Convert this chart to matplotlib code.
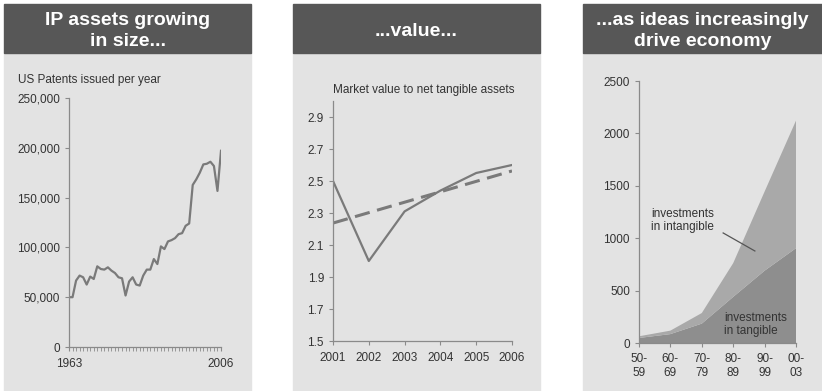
import matplotlib.pyplot as plt
from matplotlib.patches import Rectangle
import numpy as np

plt.rcParams['font.family'] = ['Liberation Sans', 'DejaVu Sans']

# panel 1: US patents issued per year
years = list(range(1963, 2007))
patents = [50000, 50000, 66700, 71700, 70000, 62700, 70700, 68300, 81000, 78300,
           77700, 80000, 76700, 74300, 70000, 69000, 51700, 65700, 70000, 62700,
           61700, 71700, 77700, 77700, 88300, 83300, 101000, 98300, 106000, 107300,
           109300, 113300, 114300, 121700, 124000, 162700, 168300, 175000, 183300, 184000,
           186000, 181700, 156700, 197000]

# panel 2: market value to net tangible assets
mv_years = [2001, 2002, 2003, 2004, 2005, 2006]
mv_ratio = [2.50, 2.00, 2.31, 2.44, 2.55, 2.60]

# panel 3: investments by decade
decades = ["50-\n59", "60-\n69", "70-\n79", "80-\n89", "90-\n99", "00-\n03"]
tangible = [48, 85, 185, 440, 690, 905]
intangible = [16, 33, 101, 322, 755, 1217]

headers = ["IP assets growing\nin size...", "...value...", "...as ideas increasingly\ndrive economy"]

W, H = 822, 391
fig = plt.figure(figsize=(W / 100, H / 100), dpi=100)

BG = '#e3e3e3'
HEAD = '#575757'
LINE = '#7a7a7a'
TXT = '#333333'
AXC = '#8a8a8a'

panels = [(4, 251), (293, 540), (583, 822)]
for (x0, x1), title in zip(panels, headers):
    fig.patches.append(Rectangle((x0 / W, 0.0), (x1 - x0) / W, (H - 53) / H,
                                 transform=fig.transFigure, color=BG, zorder=-10))
    fig.patches.append(Rectangle((x0 / W, (H - 53) / H), (x1 - x0) / W, 49 / H,
                                 transform=fig.transFigure, color=HEAD, zorder=-10))
    fig.text((x0 + x1) / 2 / W, (H - 31) / H, title, color='white', fontsize=14,
             fontweight='bold', ha='center', va='center', linespacing=1.3)


def style(ax):
    ax.set_facecolor('none')
    for s in ['top', 'right']:
        ax.spines[s].set_visible(False)
    for s in ['left', 'bottom']:
        ax.spines[s].set_color(AXC)
        ax.spines[s].set_linewidth(0.9)
    ax.tick_params(colors=AXC, labelcolor=TXT, labelsize=8.5, length=3, width=0.8)


# panel 1
ax1 = fig.add_axes([69 / W, 44 / H, 152 / W, 249 / H])
style(ax1)
ax1.plot(years, patents, color=LINE, lw=1.6)
ax1.set_xlim(1963, 2006)
ax1.set_ylim(0, 250000)
ax1.set_yticks(range(0, 250001, 50000))
ax1.set_yticklabels([f"{v:,}" for v in range(0, 250001, 50000)])
ax1.set_xticks(years, minor=True)
ax1.set_xticks([1963, 2006])
ax1.tick_params(axis='x', which='minor', length=3, width=0.6, colors=AXC)
ax1.tick_params(axis='x', pad=5)
fig.text(18 / W, (H - 80) / H, "US Patents issued per year", fontsize=8.5,
         color=TXT, ha='left', va='center')

# panel 2
ax2 = fig.add_axes([333 / W, 50 / H, 179 / W, 240 / H])
style(ax2)
ax2.plot(mv_years, mv_ratio, color=LINE, lw=1.6)
slope, icpt = np.polyfit(mv_years, mv_ratio, 1)
trend = np.polyval([slope, icpt], mv_years)
ax2.plot(mv_years, trend, color=LINE, lw=2.2, ls=(0, (5, 2.5)))
ax2.set_xlim(2001, 2006)
ax2.set_ylim(1.5, 3.0)
ax2.set_yticks(np.arange(1.5, 3.0, 0.2))
ax2.set_yticklabels([f"{v:.1f}" for v in np.arange(1.5, 3.0, 0.2)])
ax2.set_xticks(mv_years)
ax2.tick_params(axis='x', pad=5)
fig.text(424 / W, (H - 90) / H, "Market value to net tangible assets", fontsize=8.5,
         color=TXT, ha='center', va='center')

# panel 3
ax3 = fig.add_axes([639 / W, 48 / H, 157 / W, 262 / H])
style(ax3)
xs = np.arange(len(decades))
ax3.stackplot(xs, tangible, intangible, colors=['#8e8e8e', '#a9a9a9'], lw=0)
ax3.set_xlim(0, len(decades) - 1)
ax3.set_ylim(0, 2500)
ax3.set_yticks(range(0, 2501, 500))
ax3.set_xticks(xs)
ax3.set_xticklabels(decades, linespacing=1.2)
ax3.tick_params(axis='x', pad=4)
ax3.text(0.38, 1170, "investments\nin intangible", fontsize=8.5, color=TXT,
         ha='left', va='center', linespacing=1.1)
ax3.plot([2.68, 3.69], [1050, 878], color='#555555', lw=0.9)
ax3.text(2.72, 180, "investments\nin tangible", fontsize=8.5, color=TXT,
         ha='left', va='center', linespacing=1.1)

fig.savefig("out.png", dpi=100)
